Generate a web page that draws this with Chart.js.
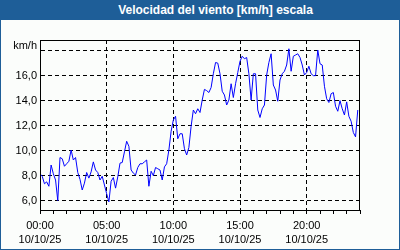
<!DOCTYPE html>
<html>
<head>
<meta charset="utf-8">
<script src="https://cdn.jsdelivr.net/npm/chart.js@4"></script>
<style>
  html, body { margin: 0; padding: 0; }
  body { width: 400px; height: 250px; background: #fbfdfb; position: relative; overflow: hidden; }
  #chart { position: absolute; left: 0; top: 0; }
  #title {
    position: absolute; left: 0; top: 0; width: 400px; height: 20px;
    background: #1e5e98; color: #fff;
    font: bold 12px "Liberation Sans", Arial, sans-serif;
    line-height: 20px; text-align: center;
    box-sizing: border-box; padding-left: 31px;
  }
  #frame {
    position: absolute; left: 0; top: 0; width: 400px; height: 250px;
    box-sizing: border-box; border: 1px solid #1e5e98; border-top: none;
    pointer-events: none;
  }
</style>
</head>
<body>
<canvas id="chart" width="400" height="250"></canvas>
<div id="title">Velocidad del viento [km/h] escala</div>
<div id="frame"></div>
<script>
// wind speed every 10 minutes, 10/10/25 00:00 - 23:50
const speeds = [
  8.1, 7.9, 7.3, 7.45, 7.1, 8.8, 8.1, 7.6, 5.95, 9.4, 9.3, 8.7,
  8.9, 9.1, 10.0, 9.2, 9.4, 8.2, 7.65, 6.8, 7.35, 8.2, 7.75, 8.25,
  9.05, 8.4, 8.2, 7.6, 7.9, 7.2, 6.5, 5.85, 7.5, 7.8, 6.95, 7.85,
  8.95, 9.0, 9.85, 10.7, 10.3, 8.4, 8.15, 8.0, 8.6, 8.9, 8.9, 9.05,
  9.2, 7.1, 8.3, 7.95, 8.6, 8.5, 8.4, 7.6, 8.65, 8.9, 10.0, 11.5,
  12.4, 12.7, 10.9, 11.3, 11.3, 10.1, 9.6, 10.2, 11.9, 13.2, 12.9, 13.3,
  13.0, 14.0, 14.85, 14.75, 14.6, 15.0, 16.1, 17.0, 16.95, 16.1, 14.7, 14.4,
  13.6, 14.0, 15.3, 14.2, 15.3, 16.2, 17.1, 17.5, 17.3, 17.4, 16.1, 14.0,
  16.1, 16.1, 13.2, 12.6, 13.3, 13.6, 16.0, 17.0, 17.7, 15.2, 14.8, 13.9,
  15.6, 16.1, 16.3, 16.8, 18.1, 16.3, 17.5, 17.6, 17.7, 17.4, 16.8, 16.0,
  16.2, 16.7, 16.1, 15.95, 15.95, 18.0, 16.9, 16.8, 15.1, 14.1, 13.8, 14.5,
  14.6, 13.5, 13.1, 13.95, 13.3, 12.8, 13.85, 12.7, 12.3, 11.4, 11.05, 13.2
];
const stepMinutes = 10;
const xLabelHours = [0, 5, 10, 15, 20];
const dateLabel = '10/10/25';
const yTicks = [6, 8, 10, 12, 14, 16, 18];
const unitLabel = 'km/h';

const font = { family: '"Liberation Sans", Arial, sans-serif', size: 11 };

const points = speeds.map((v, i) => ({ x: i * stepMinutes / 60, y: v }));

const framePlugin = {
  id: 'frame',
  afterDraw(chart) {
    const { ctx, chartArea: a } = chart;
    ctx.save();
    ctx.strokeStyle = '#000';
    ctx.lineWidth = 1;
    ctx.strokeRect(a.left + 0.5, a.top + 0.5, a.right - a.left - 1, a.bottom - a.top);
    ctx.fillStyle = '#000';
    ctx.font = '11px "Liberation Sans", Arial, sans-serif';
    ctx.textAlign = 'right';
    ctx.textBaseline = 'middle';
    ctx.fillText(unitLabel, 37, 46);
    ctx.restore();
  }
};

new Chart(document.getElementById('chart'), {
  type: 'line',
  data: {
    datasets: [{
      data: points,
      borderColor: '#0000ff',
      borderWidth: 1,
      pointRadius: 0,
      tension: 0,
      fill: false
    }]
  },
  options: {
    responsive: false,
    animation: false,
    layout: { padding: { left: 0, right: 40, top: 40, bottom: 0 } },
    plugins: { legend: { display: false }, tooltip: { enabled: false }, title: { display: false } },
    scales: {
      x: {
        type: 'linear',
        min: 0,
        max: 24,
        afterBuildTicks: scale => {
          const t = [];
          for (let h = 0; h <= 24; h++) t.push({ value: h });
          scale.ticks = t;
        },
        afterFit: scale => { scale.height = 40; },
        ticks: {
          autoSkip: false,
          maxRotation: 0,
          padding: 5,
          color: '#000',
          font: { ...font, lineHeight: 1.25 },
          callback: v => xLabelHours.includes(v)
            ? [String(v).padStart(2, '0') + ':00', dateLabel]
            : ''
        },
        grid: {
          color: c => (c.tick && xLabelHours.includes(c.tick.value)) ? '#000' : 'rgba(0,0,0,0)',
          tickColor: '#000',
          tickLength: 4,
          lineWidth: 1
        },
        border: { display: true, color: '#000', dash: [4, 3] }
      },
      y: {
        min: 5.2,
        max: 18.8,
        afterBuildTicks: scale => { scale.ticks = yTicks.map(v => ({ value: v })); },
        afterFit: scale => { scale.width = 40; },
        ticks: {
          padding: 3,
          labelOffset: 1,
          color: '#000',
          font: font,
          callback: v => v === 18 ? '' : v.toFixed(1).replace('.', ',')
        },
        grid: { color: '#000', drawTicks: false, lineWidth: 1 },
        border: { display: true, color: '#000', dash: [4, 3] }
      }
    }
  },
  plugins: [framePlugin]
});
</script>
</body>
</html>
